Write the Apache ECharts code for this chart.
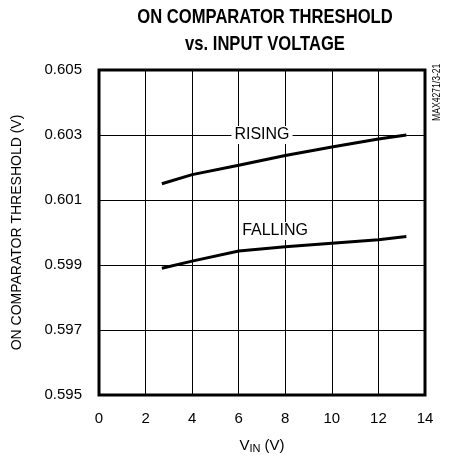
<!DOCTYPE html>
<html><head><meta charset="utf-8">
<script src="https://cdn.jsdelivr.net/npm/echarts@6/dist/echarts.min.js"></script>
<style>html,body{margin:0;padding:0;background:#fff}#c{width:449px;height:459px}</style>
</head><body><div id="c"></div>
<script>
const xTicks = [0, 2, 4, 6, 8, 10, 12, 14];
const yTicks = [0.595, 0.597, 0.599, 0.601, 0.603, 0.605];
const vin = [2.7, 4, 6, 8, 10, 12, 13.2];
const rising = [0.6015, 0.60178, 0.60207, 0.60237, 0.60263, 0.60288, 0.6030];
const falling = [0.5989, 0.59912, 0.59943, 0.59956, 0.59967, 0.59978, 0.59988];
const risingLabel = [7.0, 0.6030];
const fallingLabel = [7.56, 0.60005];
const titleLines = ['ON COMPARATOR THRESHOLD', 'vs. INPUT VOLTAGE'];

const font = '"Liberation Sans", Arial, sans-serif';
const chart = echarts.init(document.getElementById('c'), null, {renderer: 'canvas'});
function mk(label, pos) {
  return {
    symbol: 'circle', symbolSize: 0, silent: true,
    data: [{coord: pos, value: label}],
    label: {show: true, position: 'inside', formatter: label, color: '#000', fontFamily: font, fontSize: 16,
      backgroundColor: '#fff', padding: [1, 3, 1, 3]}
  };
}
chart.setOption({
  animation: false,
  grid: {left: 99, right: 24, top: 70, bottom: 62, show: true, borderColor: '#000', borderWidth: 3, backgroundColor: 'transparent'},
  xAxis: {
    type: 'value', min: 0, max: 14, interval: 2,
    axisLine: {show: false}, axisTick: {show: false},
    splitLine: {show: true, lineStyle: {color: '#000', width: 1}},
    axisLabel: {fontFamily: font, fontSize: 15, color: '#000', margin: 16},
    name: 'V{s|IN} (V)', nameLocation: 'middle', nameGap: 42,
    nameTextStyle: {fontFamily: font, fontSize: 15, color: '#000',
      rich: {s: {fontFamily: font, fontSize: 11, color: '#000', verticalAlign: 'bottom', padding: [6, 0, 0, 0]}}}
  },
  yAxis: {
    type: 'value', min: 0.595, max: 0.605, interval: 0.002,
    axisLine: {show: false}, axisTick: {show: false},
    splitLine: {show: true, lineStyle: {color: '#000', width: 1}},
    axisLabel: {fontFamily: font, fontSize: 15, color: '#000', margin: 17, formatter: v => v.toFixed(3)},
    name: 'ON COMPARATOR THRESHOLD (V)', nameLocation: 'middle', nameGap: 75,
    nameTextStyle: {fontFamily: font, fontSize: 14, color: '#000'}
  },
  graphic: [
    {type: 'text', x: 265, y: 7, scaleX: 0.79,
      style: {text: titleLines[0], fontFamily: font, fontWeight: 'bold', fontSize: 21, fill: '#000', textAlign: 'center', textVerticalAlign: 'top'}},
    {type: 'text', x: 265, y: 34, scaleX: 0.79,
      style: {text: titleLines[1], fontFamily: font, fontWeight: 'bold', fontSize: 21, fill: '#000', textAlign: 'center', textVerticalAlign: 'top'}},
    {type: 'text', x: 432, y: 121, rotation: Math.PI / 2, scaleX: 0.86,
      style: {text: 'MAX4271/3-21', fontFamily: font, fontSize: 10, fill: '#000', textAlign: 'left', textVerticalAlign: 'top'}}
  ],
  series: [
    {type: 'line', data: vin.map((x, i) => [x, rising[i]]), showSymbol: false, lineStyle: {color: '#000', width: 3}, markPoint: mk('RISING', risingLabel), z: 3},
    {type: 'line', data: vin.map((x, i) => [x, falling[i]]), showSymbol: false, lineStyle: {color: '#000', width: 3}, markPoint: mk('FALLING', fallingLabel), z: 3}
  ]
});
</script></body></html>
